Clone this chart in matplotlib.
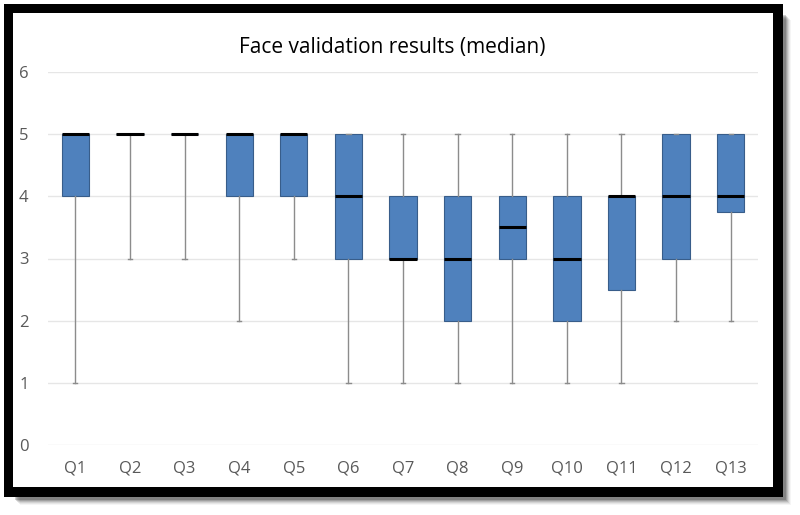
import matplotlib
matplotlib.use("Agg")
import matplotlib.pyplot as plt
from matplotlib.patches import Rectangle

categories = ["Q1", "Q2", "Q3", "Q4", "Q5", "Q6", "Q7", "Q8", "Q9", "Q10", "Q11", "Q12", "Q13"]
mins    = [1, 3, 3, 2, 3, 1, 1, 1, 1,   1, 1,   2, 2]
q1s     = [4, 5, 5, 4, 4, 3, 3, 2, 3,   2, 2.5, 3, 3.75]
medians = [5, 5, 5, 5, 5, 4, 3, 3, 3.5, 3, 4,   4, 4]
q3s     = [5, 5, 5, 5, 5, 5, 4, 4, 4,   4, 4,   5, 5]
maxs    = [5, 5, 5, 5, 5, 5, 5, 5, 5,   5, 5,   5, 5]
yticks = [0, 1, 2, 3, 4, 5, 6]
title = "Face validation results (median)"

plt.rcParams['font.family'] = ['Open Sans', 'DejaVu Sans']

W, H = 800, 515
fig = plt.figure(figsize=(W / 100, H / 100), dpi=100)
fig.patch.set_facecolor("white")

def px_rect(x0, y0, x1, y1, **kw):
    return Rectangle((x0 / W, 1 - y1 / H), (x1 - x0) / W, (y1 - y0) / H,
                     transform=fig.transFigure, **kw)

# shadow (bottom-right)
for i, a in enumerate([0.04, 0.06, 0.08, 0.11, 0.14, 0.18]):
    d = 6 - i
    fig.patches.append(px_rect(14 + d, 14 + d, 783 + d + 2, 497 + d + 2,
                               facecolor="black", edgecolor="none", alpha=a, zorder=0))
# black frame
fig.patches.append(px_rect(4, 4, 783, 497, facecolor="black", edgecolor="none", zorder=1))
fig.patches.append(px_rect(13, 13, 773, 487, facecolor="white", edgecolor="none", zorder=2))

ax = fig.add_axes([48 / W, 1 - 445 / H, 710 / W, (445 - 72) / H])
ax.set_zorder(3)
ax.patch.set_alpha(0)

stats = []
for i, c in enumerate(categories):
    stats.append(dict(label=c, whislo=mins[i], q1=q1s[i], med=medians[i],
                      q3=q3s[i], whishi=maxs[i]))

ax.bxp(stats, positions=range(1, len(categories) + 1), widths=0.5,
       showfliers=False, patch_artist=True,
       boxprops=dict(facecolor="#4F81BD", edgecolor="#385D8A", linewidth=0.8),
       medianprops=dict(color="black", linewidth=2.2),
       whiskerprops=dict(color="#8C8C8C", linewidth=1.0),
       capprops=dict(color="#8C8C8C", linewidth=1.0),
       capwidths=0.08)

ax.set_xlim(0.5, len(categories) + 0.5)
ax.set_ylim(0, 6)
ax.set_yticks(yticks)
ax.grid(axis="y", color="#E6E6E6", linewidth=1)
ax.set_axisbelow(True)
for s in ax.spines.values():
    s.set_visible(False)
ax.tick_params(axis="both", length=0, labelsize=12, colors="#595959")
ax.tick_params(axis="y", pad=14)
ax.tick_params(axis="x", pad=11)
ax.set_title(title, fontsize=15, color="#000000", pad=14, x=0.4845)

fig.savefig("out.png", dpi=100)
